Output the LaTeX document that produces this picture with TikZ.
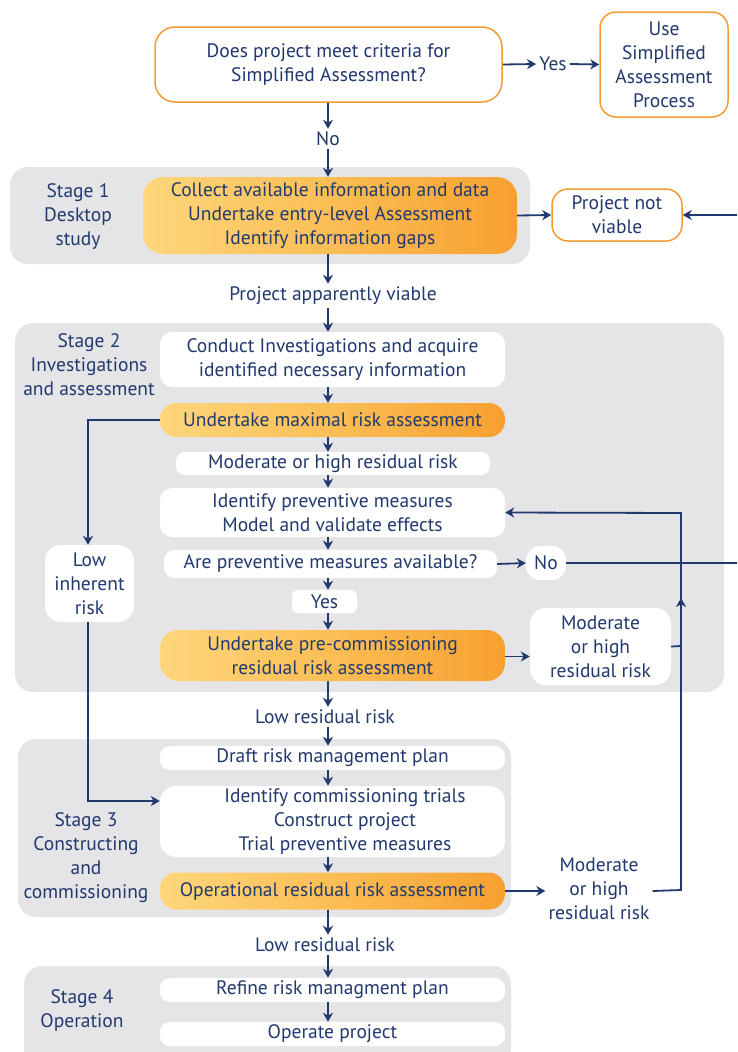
\documentclass[tikz,border=0pt]{standalone}
\usepackage{fontspec}
\setmainfont{PT Sans}
\usetikzlibrary{arrows.meta,calc}
\definecolor{navy}{HTML}{22396E}
\definecolor{orng}{HTML}{F39C34}
\definecolor{stagegray}{HTML}{E5E5E8}
\definecolor{gradL}{HTML}{FED67C}
\definecolor{gradM}{HTML}{FBBE55}
\definecolor{gradR}{HTML}{F7A030}
\begin{document}
\begin{tikzpicture}[x=1pt,y=-1pt,
  every node/.style={font=\fontsize{19.5}{24}\selectfont, text=navy, align=center, inner sep=2pt},
  wbox/.style={fill=white, rounded corners=12pt, minimum width=345pt, inner sep=0pt},
  obox/.style={left color=gradL, right color=gradR, middle color=gradM, rounded corners=16pt, minimum width=345pt, inner sep=0pt},
  ovbox/.style={draw=orng, line width=1.5pt, fill=white, rounded corners=16pt, inner sep=0pt},
  stagebg/.style={fill=stagegray, rounded corners=18pt, inner sep=0pt},
  lbl/.style={inner sep=3pt},
  arr/.style={draw=navy, line width=1.8pt, -{Stealth[length=9pt,width=10pt,inset=2.8pt]}},
  ln/.style={draw=navy, line width=1.8pt}
]
\useasboundingbox (0,0) rectangle (737,1052);
\coordinate (colx) at (328,0);
% stage backgrounds
\node[stagebg, minimum width=520pt, minimum height=97pt] (bg1) at (270,215.5) {};
\node[stagebg, minimum width=709pt, minimum height=369pt] (bg2) at (369.5,507.5) {};
\node[stagebg, minimum width=493pt, minimum height=178pt] (bg3) at (264.5,828) {};
\node[stagebg, minimum width=487pt, minimum height=100pt] (bg4) at (267.5,1016) {};
% stage labels
\node (s1) at (78,217) {Stage 1\\Desktop\\study};
\node (s2) at (89,365) {Stage 2\\Investigations\\and assessment};
\node (s3) at (86,858) {Stage 3\\Constructing\\and\\commissioning};
\node (s4) at (82,1010) {Stage 4\\Operation};
% top
\node[ovbox, minimum width=347pt, minimum height=75pt, rounded corners=20pt] (top) at (328.5,64.5) {Does project meet criteria for\\Simplified Assessment?};
\node[lbl] (yes1) at (553,64) {Yes};
\node[ovbox, minimum width=128pt, minimum height=105pt] (use) at (664,64.5) {Use\\Simplified\\Assessment\\Process};
\node[lbl] (no1) at (328,139) {No};
% stage 1
\node[obox, minimum width=374pt, minimum height=77pt, rounded corners=20pt] (collect) at (330,215.5) {Collect available information and data\\Undertake entry-level Assessment\\Identify information gaps};
\node[ovbox, minimum width=130pt, minimum height=52pt] (pnv) at (617,215) {Project not\\viable};
\coordinate (rightA) at (737,215);
\node[lbl] (pav) at (333,296) {Project apparently viable};
% stage 2
\node[wbox, minimum height=55pt] (conduct) at (332.5,359.5) {Conduct Investigations and acquire\\identified necessary information};
\node[obox, minimum height=34pt] (maximal) at (332.5,420) {Undertake maximal risk assessment};
\node[wbox, minimum width=314pt, minimum height=23pt, rounded corners=9pt] (mh1) at (333,463.5) {Moderate or high residual risk};
\node[wbox, minimum height=49pt] (ipm) at (332.5,512.5) {Identify preventive measures\\Model and validate effects};
\node[wbox, minimum width=333pt, minimum height=28pt, rounded corners=10pt] (avail) at (330.5,564) {Are preventive measures available?};
\node[wbox, minimum width=40pt, minimum height=34pt, rounded corners=14pt] (no2) at (546,563) {No};
\coordinate (rightB) at (737,563);
\node[wbox, minimum width=65pt, minimum height=23pt, rounded corners=6pt] (yes2) at (324.5,601.5) {Yes};
\node[obox, minimum height=51pt, rounded corners=18pt] (precomm) at (332.5,655.5) {Undertake pre-commissioning\\residual risk assessment};
\node[wbox, minimum width=141pt, minimum height=77pt, rounded corners=16pt] (mh2) at (600.5,646.5) {Moderate\\or high\\residual risk};
\node[wbox, minimum width=89pt, minimum height=77pt, rounded corners=16pt] (lowinh) at (89.5,583.5) {Low\\inherent\\risk};
\node[lbl] (lrr1) at (325,717) {Low residual risk};
% stage 3
\node[wbox, minimum height=24pt, rounded corners=10pt] (draft) at (332.5,758) {Draft risk management plan};
\node[wbox, minimum height=71pt, rounded corners=16pt] (ict) at (332.5,821.5) {\hspace*{25pt}Identify commissioning trials\\\hspace*{25pt}Construct project\\\hspace*{25pt}Trial preventive measures};
\node[obox, minimum height=37pt, rounded corners=16pt] (oper) at (332.5,891) {Operational residual risk assessment};
\node[lbl] (mh3) at (599,889) {Moderate\\or high\\residual risk};
\node[lbl] (lrr2) at (325,945) {Low residual risk};
% stage 4
\node[wbox, minimum height=24pt, rounded corners=10pt] (refine) at (332.5,990) {Refine risk managment plan};
\node[wbox, minimum height=24pt, rounded corners=10pt] (operate) at (332.5,1034) {Operate project};
% loop coordinates
\coordinate (loopB) at (681,890);
\coordinate (loopT) at (681,513);
\coordinate (loopM) at (681,646);
\coordinate (loopA) at (681,598);
% connectors
\draw[arr] (top.east) -- (yes1.west);
\draw[arr] (yes1.east) -- (use.west);
\draw[arr] (top.south -| colx) -- (no1.north -| colx);
\draw[arr] (no1.south -| colx) -- (collect.north -| colx);
\draw[arr] (collect.east) -- (pnv.west);
\draw[arr] (rightA) -- (pnv.east);
\draw[arr] (collect.south -| colx) -- (pav.north -| colx);
\draw[arr] (pav.south -| colx) -- (conduct.north -| colx);
\draw[arr] (conduct.south -| colx) -- (maximal.north -| colx);
\draw[arr] (maximal.west) -| ([xshift=-1.5pt]lowinh.north);
\draw[arr] ([xshift=-1.5pt]lowinh.south) |- ([yshift=20.5pt]ict.west);
\draw[arr] (maximal.south -| colx) -- (mh1.north -| colx);
\draw[arr] (mh1.south -| colx) -- (ipm.north -| colx);
\draw[arr] (ipm.south -| colx) -- (avail.north -| colx);
\draw[arr] (avail.east) -- (no2.west);
\draw[ln] (no2.east) -- (rightB);
\draw[arr] (avail.south -| colx) -- (yes2.north -| colx);
\draw[arr] (yes2.south -| colx) -- (precomm.north -| colx);
\draw[arr] ([yshift=-1pt]precomm.east) -- ([yshift=-1pt]precomm.east -| mh2.west);
\draw[ln] (mh2.east) -- (loopM);
\draw[arr] (precomm.south -| colx) -- (lrr1.north -| colx);
\draw[arr] (lrr1.south -| colx) -- (draft.north -| colx);
\draw[arr] (draft.south -| colx) -- (ict.north -| colx);
\draw[arr] (ict.south -| colx) -- (oper.north -| colx);
\draw[arr] (oper.east) -- (oper.east -| mh3.west);
\draw[arr] (oper.east -| mh3.east) -- (loopB) -- (loopT) -- (ipm.east);
\draw[arr] (loopB) -- (loopA);
\draw[arr] (oper.south -| colx) -- (lrr2.north -| colx);
\draw[arr] (lrr2.south -| colx) -- (refine.north -| colx);
\draw[arr] (refine.south -| colx) -- (operate.north -| colx);
\end{tikzpicture}
\end{document}
